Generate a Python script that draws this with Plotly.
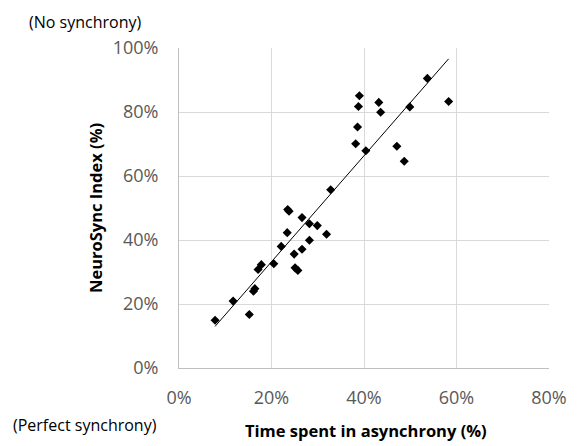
import numpy as np
import plotly.graph_objects as go

# Time spent in asynchrony (%) and NeuroSync index (%) per subject
async_pct = [39.0, 38.8, 43.2, 43.6, 53.7, 58.3, 49.9, 38.6, 38.2, 40.4, 47.1, 48.7,
             32.8, 23.5, 23.8, 26.6, 28.2, 29.9, 23.4, 31.9, 28.2, 22.1, 26.6, 24.9,
             20.5, 17.8, 17.1, 25.1, 25.7, 16.4, 16.1, 11.7, 15.2, 7.8]
neurosync_pct = [85.1, 81.7, 83.0, 79.9, 90.5, 83.3, 81.6, 75.3, 70.1, 67.9, 69.3, 64.6,
                 55.7, 49.5, 49.0, 47.0, 45.1, 44.5, 42.3, 41.8, 39.9, 38.0, 37.1, 35.6,
                 32.6, 32.3, 30.8, 31.3, 30.5, 24.8, 24.0, 20.9, 16.7, 14.9]

x_ticks = [0, 20, 40, 60, 80]
y_ticks = [0, 20, 40, 60, 80, 100]

x = np.array(async_pct) / 100
y = np.array(neurosync_pct) / 100

# Linear least-squares trend line across the observed range
slope, intercept = np.polyfit(x, y, 1)
tx = np.array([x.min(), x.max()])
ty = slope * tx + intercept

fig = go.Figure()
fig.add_trace(go.Scatter(
    x=tx, y=ty, mode="lines",
    line=dict(color="black", width=1), hoverinfo="skip", showlegend=False,
))
fig.add_trace(go.Scatter(
    x=x, y=y, mode="markers",
    marker=dict(symbol="diamond", size=7, color="black"),
    showlegend=False,
))

font_family = "Open Sans, Liberation Sans, sans-serif"
tick_font = dict(family=font_family, size=18, color="#595959")
grid = "#d9d9d9"

fig.update_xaxes(
    range=[0, 0.8], tickvals=[v / 100 for v in x_ticks],
    ticktext=[f"{v}%" for v in x_ticks],
    showgrid=True, gridcolor=grid, gridwidth=1,
    showline=True, linecolor="#bfbfbf", linewidth=1,
    zeroline=False, ticks="", tickfont=tick_font, ticklabelstandoff=13,
)
fig.update_yaxes(
    range=[0, 1.0], tickvals=[v / 100 for v in y_ticks],
    ticktext=[f"{v}%" for v in y_ticks],
    showgrid=True, gridcolor=grid, gridwidth=1,
    showline=True, linecolor="#bfbfbf", linewidth=1,
    zeroline=False, ticks="", tickfont=tick_font, ticklabelstandoff=16,
)

title_font = dict(family=font_family, size=16.5, color="black")
note_font = dict(family=font_family, size=16, color="black")

fig.update_layout(
    width=579, height=446,
    margin=dict(l=179, r=21, t=48, b=78),
    paper_bgcolor="white", plot_bgcolor="white",
    annotations=[
        dict(text="<b>Time spent in asynchrony (%)</b>", xref="paper", yref="paper",
             x=0.505, y=-0.194, xanchor="center", yanchor="middle",
             showarrow=False, font=title_font),
        dict(text="<b>NeuroSync Index (%)</b>", xref="paper", yref="paper",
             x=-0.227, y=0.5, xanchor="center", yanchor="middle", textangle=-90,
             showarrow=False, font=title_font),
        dict(text="(No synchrony)", xref="paper", yref="paper",
             x=-0.412, y=1.081, xanchor="left", yanchor="middle",
             showarrow=False, font=note_font),
        dict(text="(Perfect synchrony)", xref="paper", yref="paper",
             x=-0.454, y=-0.178, xanchor="left", yanchor="middle",
             showarrow=False, font=note_font),
    ],
)

fig.write_html("out.html")
